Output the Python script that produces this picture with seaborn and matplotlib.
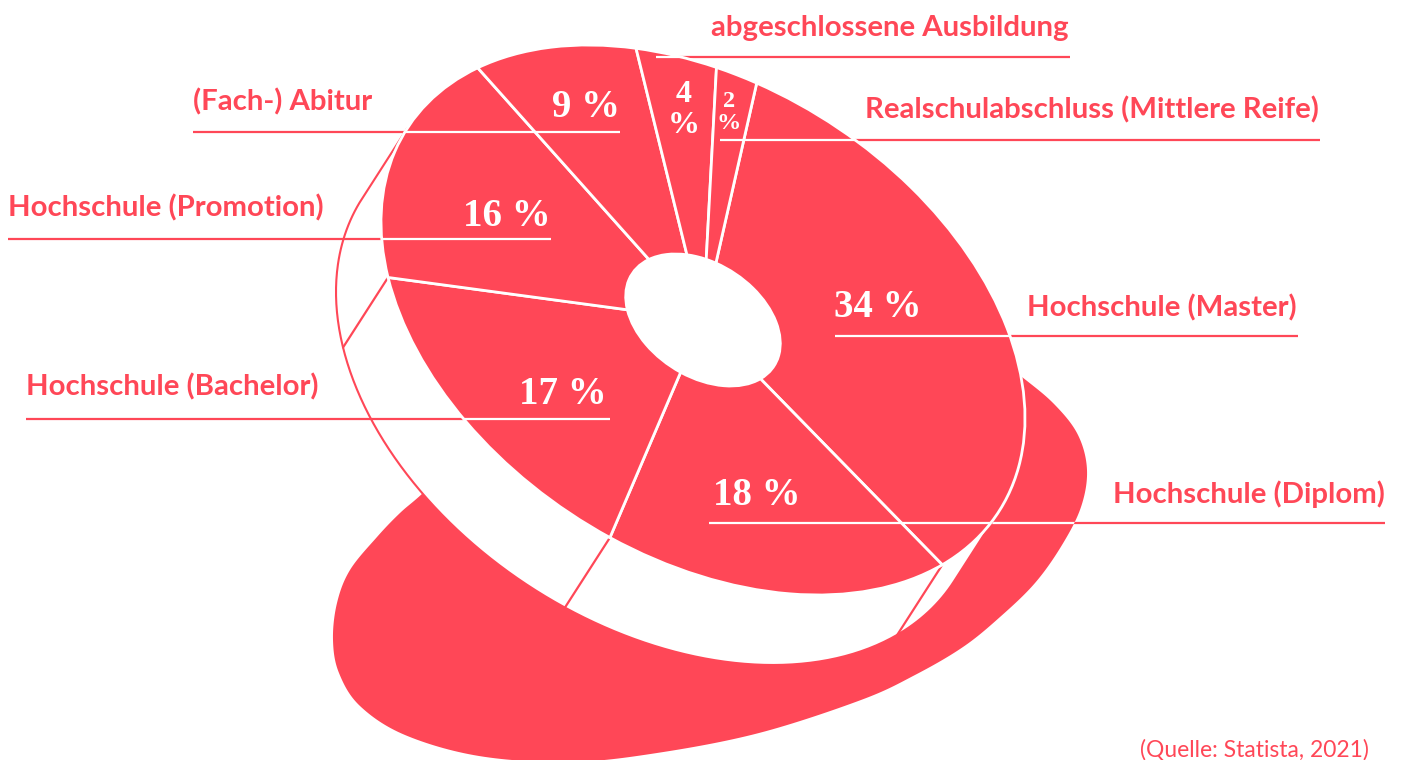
import numpy as np
import matplotlib
matplotlib.use("Agg")
import matplotlib.pyplot as plt
import seaborn as sns
from matplotlib.transforms import Affine2D
from matplotlib.patches import Circle, Polygon

# ---------------- data ----------------
categories = ["Hochschule (Master)", "Hochschule (Diplom)", "Hochschule (Bachelor)",
              "Hochschule (Promotion)", "(Fach-) Abitur", "abgeschlossene Ausbildung",
              "Realschulabschluss (Mittlere Reife)"]
shares = [34, 18, 17, 16, 9, 4, 2]
source_text = "(Quelle: Statista, 2021)"

# ---------------- style / layout ----------------
RED = "#FF4757"
W, H = 1402, 760
CX, CY = 703, 320                      # centre of the tilted donut
MAT = np.array([[322.0, 0.0], [98.1, 256.9]])  # tilt of the donut top face
OFF = np.array([-45.0, 70.0])          # depth of the extruded side
HOLE = 0.24
START = -80.4

# label layout: text xy (baseline), underline (x0, x1, y), pct label baseline xy, ha, size
# stacked labels: pct = (x, digit baseline, % baseline)
LAYOUT = {
    "abgeschlossene Ausbildung": dict(txt=(711, 36), line=(656, 1070, 57), pct=(684, 102, 133), ha="center", fs=23),
    "Realschulabschluss (Mittlere Reife)": dict(txt=(865, 118), line=(720, 1320, 140), pct=(729, 107, 129), ha="center", fs=17.5),
    "(Fach-) Abitur": dict(txt=(193, 110), line=(193, 620, 132), pct=(620, 117), ha="right", fs=28),
    "Hochschule (Promotion)": dict(txt=(8, 216), line=(8, 551, 239), pct=(551, 226), ha="right", fs=28),
    "Hochschule (Bachelor)": dict(txt=(26, 395), line=(26, 610, 419), pct=(607, 404), ha="right", fs=28),
    "Hochschule (Master)": dict(txt=(1027, 316), line=(835, 1298, 336), pct=(834, 317), ha="left", fs=28),
    "Hochschule (Diplom)": dict(txt=(1113, 503), line=(709, 1385, 523), pct=(713, 505), ha="left", fs=28),
}

SHADOW_ANCHORS = [
    (960, 330), (1022, 377), (1055, 405), (1078, 435), (1087, 470), (1081, 507),
    (1062, 545), (1035, 583), (1000, 617), (963, 647), (915, 675), (861, 700),
    (759, 733), (657, 753), (570, 762), (479, 756), (405, 735), (360, 706),
    (339, 673), (333, 640), (337, 603), (350, 570), (377, 537), (400, 513), (423, 493),
    (470, 448), (600, 370), (800, 320),
]

sns.set_theme(style="white")
plt.rcParams["font.family"] = ["Lato", "DejaVu Sans"]
SERIF = ["Liberation Serif", "DejaVu Serif"]

fig = plt.figure(figsize=(W / 100, H / 100), dpi=100)
ax = fig.add_axes([0, 0, 1, 1])

face_tf = Affine2D.from_values(MAT[0, 0], MAT[1, 0], MAT[0, 1], MAT[1, 1], CX, CY)


def face_pt(t, off=(0.0, 0.0)):
    t = np.atleast_1d(t)
    u = np.vstack([np.cos(t), np.sin(t)])
    p = MAT @ u
    return np.column_stack([p[0] + CX + off[0], p[1] + CY + off[1]])


# ---------------- shadow blob ----------------
P = np.array(SHADOW_ANCHORS, float)
n = len(P)
pts = []
for i in range(n):
    p0, p1, p2, p3 = P[i - 1], P[i], P[(i + 1) % n], P[(i + 2) % n]
    for s in np.linspace(0, 1, 16, endpoint=False):
        pts.append(0.5 * (2 * p1 + (-p0 + p2) * s + (2 * p0 - 5 * p1 + 4 * p2 - p3) * s * s
                          + (-p0 + 3 * p1 - 3 * p2 + p3) * s ** 3))
shadow = Polygon(np.array(pts), closed=True, fc=RED, ec="none", zorder=1)
ax.add_patch(shadow)

# ---------------- extruded side ----------------
A = -MAT[0, 0] * OFF[1] + MAT[1, 0] * OFF[0]
B = MAT[0, 1] * OFF[1] - MAT[1, 1] * OFF[0]
tA = np.arctan2(-B, A)
Minv_T = np.linalg.inv(MAT).T
mid = tA + np.pi / 2
if (Minv_T @ np.array([np.cos(mid), np.sin(mid)])) @ OFF < 0:
    tA += np.pi
upper = face_pt(np.linspace(tA, tA - np.pi, 300))
lower = face_pt(np.linspace(tA + np.pi, tA, 300), OFF)
side = Polygon(np.vstack([upper, lower]), closed=True, fc="white", ec="none", zorder=2)
ax.add_patch(side)
outline = np.vstack([face_pt(tA + np.pi), lower, face_pt(tA)])
ax.plot(outline[:, 0], outline[:, 1], color=RED, lw=1.5, zorder=2.6, solid_capstyle="round")

# seams on the side at visible slice boundaries
bounds = np.deg2rad(START + 360 * np.cumsum([0] + shares[:-1]) / sum(shares))
for b in bounds:
    rel = (b - tA) % (2 * np.pi)
    if 0.02 < rel < np.pi - 0.02:
        p = face_pt(b)[0]
        q = p + OFF
        ax.plot([p[0], q[0]], [p[1], q[1]], color=RED, lw=1.6, zorder=2.7)

# ---------------- top face (pie) ----------------
wedges, _ = ax.pie(shares, startangle=START, counterclock=True, radius=1,
                   colors=[RED] * len(shares),
                   wedgeprops=dict(width=1 - HOLE, edgecolor="white", linewidth=2.0))
for w in wedges:
    w.set_transform(face_tf + ax.transData)
    w.set_zorder(5)

face_clip = Circle((0, 0), 1.0, transform=face_tf + ax.transData)

# ---------------- labels & leader lines ----------------
for cat, val in zip(categories, shares):
    L = LAYOUT[cat]
    x0, x1, y = L["line"]
    ax.plot([x0, x1], [y, y], color=RED, lw=1.6, zorder=0.5, solid_capstyle="butt")
    l1, = ax.plot([x0, x1], [y, y], color="white", lw=1.6, zorder=1.5, solid_capstyle="butt")
    l1.set_clip_path(shadow)
    l2, = ax.plot([x0, x1], [y, y], color=RED, lw=1.6, zorder=2.5, solid_capstyle="butt")
    l2.set_clip_path(side)
    l3, = ax.plot([x0, x1], [y, y], color="white", lw=1.6, zorder=5.5, solid_capstyle="butt")
    l3.set_clip_path(face_clip)

    ax.text(L["txt"][0], L["txt"][1], cat, color=RED, fontsize=21.2, fontweight="bold",
            ha="left", va="baseline", zorder=8)
    if len(L["pct"]) == 3:
        px, yd, yp = L["pct"]
        ax.text(px, yd, f"{val}", color="white", fontsize=L["fs"], fontweight="bold",
                family=SERIF, ha="center", va="baseline", zorder=8)
        ax.text(px, yp, "%", color="white", fontsize=L["fs"], fontweight="bold",
                family=SERIF, ha="center", va="baseline", zorder=8)
    else:
        ax.text(L["pct"][0], L["pct"][1], f"{val} %", color="white", fontsize=L["fs"],
                fontweight="bold", family=SERIF, ha=L["ha"], va="baseline", zorder=8)

ax.text(1369, 756, source_text, color=RED, fontsize=16.5, fontweight="normal",
        ha="right", va="baseline", zorder=8)

ax.set_xlim(0, W)
ax.set_ylim(H, 0)
ax.set_aspect("auto")
ax.axis("off")
fig.savefig("out.png", dpi=100, facecolor="white")
